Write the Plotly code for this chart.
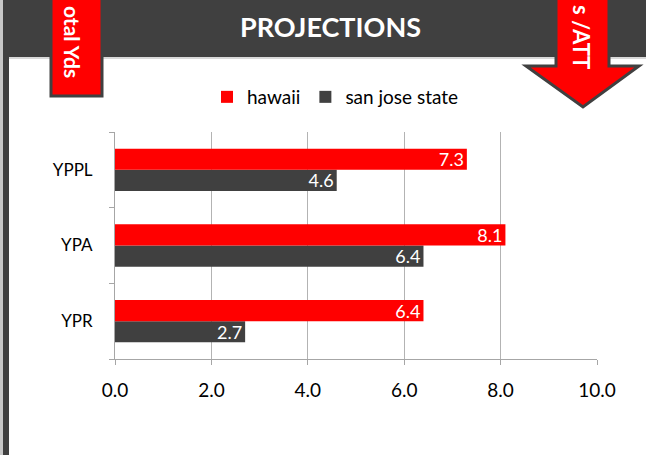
import plotly.graph_objects as go

categories = ["YPR", "YPA", "YPPL"]
hawaii = [6.4, 8.1, 7.3]
san_jose_state = [2.7, 6.4, 4.6]
x_ticks = [0, 2, 4, 6, 8, 10]
title_text = "PROJECTIONS"
left_tab_text = "otal Yds"
right_tab_text = "s /ATT"

W, H = 646, 455
L, R, T, B = 115, 49, 132, 96
PW, PH = W - L - R, H - T - B

def px(x):
    return (x - L) / PW

def py(y):
    return (H - B - y) / PH

RED = "#ff0000"
DARK = "#404040"
FONT = "Lato, 'Open Sans', sans-serif"

fig = go.Figure()
fig.add_trace(go.Bar(
    y=categories, x=san_jose_state, name="san jose state", orientation="h",
    marker=dict(color=DARK, line=dict(width=0)), legendrank=2,
    texttemplate="%{x:.1f}", textposition="inside", insidetextanchor="end",
    constraintext="none", textfont=dict(color="white", size=18, family=FONT),
))
fig.add_trace(go.Bar(
    y=categories, x=hawaii, name="hawaii", orientation="h",
    marker=dict(color=RED, line=dict(width=0)), legendrank=1,
    texttemplate="%{x:.1f}", textposition="inside", insidetextanchor="end",
    constraintext="none", textfont=dict(color="white", size=18, family=FONT),
))

shapes = [
    # header bar
    dict(type="rect", xref="paper", yref="paper", x0=px(3), x1=px(W), y0=py(57), y1=py(0),
         fillcolor=DARK, line=dict(width=0), layer="below"),
    dict(type="rect", xref="paper", yref="paper", x0=px(9), x1=px(W), y0=py(59), y1=py(57),
         fillcolor="#d9d9d9", line=dict(width=0), layer="below"),
    # left strips
    dict(type="rect", xref="paper", yref="paper", x0=px(0), x1=px(3), y0=py(H), y1=py(0),
         fillcolor="#c8c8c8", line=dict(width=0), layer="below"),
    dict(type="rect", xref="paper", yref="paper", x0=px(3), x1=px(9), y0=py(H), y1=py(57),
         fillcolor=DARK, line=dict(width=0), layer="below"),
    # left red tab
    dict(type="rect", xref="paper", yref="paper", x0=px(51), x1=px(102), y0=py(96), y1=py(-5),
         fillcolor=RED, line=dict(width=3, color=DARK), layer="above"),
]
arrow_pts = [(556, -5), (609, -5), (609, 66), (639, 66), (583, 107), (526, 66), (556, 66)]
path = "M " + " L ".join(f"{px(x):.5f},{py(y):.5f}" for x, y in arrow_pts) + " Z"
shapes.append(dict(type="path", xref="paper", yref="paper", path=path,
                   fillcolor=RED, line=dict(width=3, color=DARK), layer="above"))

annotations = [
    dict(text=f"<b>{title_text}</b>", x=px(330), y=py(27), xref="paper", yref="paper",
         showarrow=False, font=dict(color="white", size=27, family=FONT),
         xanchor="center", yanchor="middle"),
    dict(text=f"<b>{left_tab_text}</b>", x=px(73), y=py(42), xref="paper", yref="paper",
         showarrow=False, textangle=90, font=dict(color="white", size=21, family=FONT),
         xanchor="center", yanchor="middle"),
    dict(text=f"<b>{right_tab_text}</b>", x=px(582), y=py(37), xref="paper", yref="paper",
         showarrow=False, textangle=90, font=dict(color="white", size=22, family=FONT),
         xanchor="center", yanchor="middle"),
]

fig.update_layout(
    width=W, height=H,
    margin=dict(l=L, r=R, t=T, b=B, autoexpand=False),
    paper_bgcolor="white", plot_bgcolor="white",
    font=dict(family=FONT, color="black", size=18),
    barmode="group", bargap=0.44, bargroupgap=0,
    shapes=shapes, annotations=annotations,
    legend=dict(orientation="h", x=px(207), y=py(97), xanchor="left", yanchor="middle",
                font=dict(size=19, family=FONT, color="black"), traceorder="normal",
                bgcolor="rgba(0,0,0,0)", itemwidth=30),
    xaxis=dict(range=[0, 10], tickvals=x_ticks, tickformat=".1f", showgrid=True,
               gridcolor="#b3b3b3", gridwidth=1, zeroline=False, showline=True,
               linecolor="#a6a6a6", ticks="outside", ticklen=5, tickcolor="#a6a6a6",
               ticklabelstandoff=9, tickfont=dict(size=19, family=FONT, color="black"),
               fixedrange=True),
    yaxis=dict(type="category", categoryorder="array", categoryarray=categories,
               tickson="boundaries", ticks="outside", ticklen=5, tickcolor="#a6a6a6",
               showline=True, linecolor="#a6a6a6", showgrid=False, zeroline=False,
               ticklabelstandoff=18, tickfont=dict(size=17, family=FONT, color="black"),
               fixedrange=True),
)

fig.write_html("out.html", post_script="document.body.style.margin='0';",
               config={"displayModeBar": False})
